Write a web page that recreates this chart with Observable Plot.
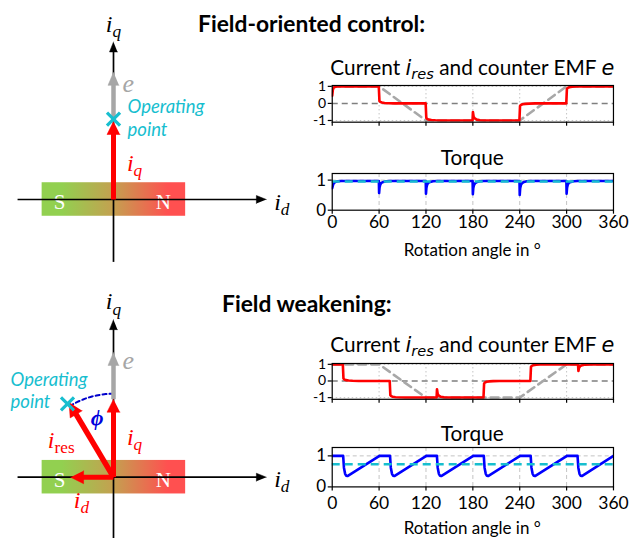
<!DOCTYPE html>
<html><head><meta charset="utf-8">
<script src="https://cdn.jsdelivr.net/npm/d3@7"></script>
<script src="https://cdn.jsdelivr.net/npm/@observablehq/plot@0.6"></script>
<style>
body{margin:0;background:#fff;}
#wrap{position:relative;width:638px;height:538px;overflow:hidden;font-family:Lato,"Open Sans",sans-serif;color:#000;}
.lbl{position:absolute;transform:translate(-50%,-50%);white-space:nowrap;line-height:1;}
.head{position:absolute;transform:translateY(-50%);font-weight:bold;font-size:22.8px;white-space:nowrap;line-height:1;}
.m{font-family:"DejaVu Sans",sans-serif;font-style:italic;}
.m sub{font-size:70%;vertical-align:-0.3em;line-height:0;}
</style></head><body><div id="wrap"></div><script>
// ---------------- data ----------------
const angleTicks = [0, 60, 120, 180, 240, 300, 360];
const currentTicks = [-1, 0, 1];
const torqueTicks = [0, 1];

// counter EMF e (trapezoid)
const emfAngle = [0, 60, 120, 240, 300, 360];
const emfValue = [1, 1, -1, -1, 1, 1];

// field-oriented control: current i_res
const focCurrentAngle = [0,0.8,1.8,3.5,6,10, 59.6,60.4,61.5,63.5,67,72,80, 119.6,120.4,121.5,123.5,127,132,140, 179.6,180.1,181,182.5,185,189,195, 239.6,240.4,241.5,243.5,247,252,260, 299.6,300.4,301.5,303.5,307,312,320, 360];
const focCurrentValue = [0.45,0.8,0.92,0.97,0.99,1, 1,0.15,0.09,0.05,0.025,0.01,0, 0,-0.85,-0.91,-0.95,-0.975,-0.99,-1, -1,-0.5,-0.78,-0.88,-0.95,-0.985,-1, -1,-0.15,-0.09,-0.05,-0.025,-0.01,0, 0,0.85,0.91,0.95,0.975,0.99,1, 1];

// field-oriented control: torque
const focTorqueAngle = [0,1,2,4,7,12, 59.7,60,60.6,61.5,63,65.5,69,74, 119.7,120,120.6,121.5,123,125.5,129,134, 179.7,180,180.6,181.5,183,185.5,189,194, 239.7,240,240.6,241.5,243,245.5,249,254, 299.7,300,300.6,301.5,303,305.5,309,314, 360];
const focTorqueValue = [0.73,0.84,0.9,0.94,0.96,0.97, 0.97,0.57,0.76,0.85,0.91,0.94,0.96,0.97, 0.97,0.55,0.75,0.85,0.91,0.94,0.96,0.97, 0.97,0.53,0.74,0.84,0.9,0.94,0.96,0.97, 0.97,0.51,0.73,0.84,0.9,0.94,0.96,0.97, 0.97,0.55,0.75,0.85,0.91,0.94,0.96,0.97, 0.97];
const focTorqueMean = [0.955];

// field weakening: current i_res
const fwCurrentAngle = [0,13.6,14.4,15.5,17.5,21,26,34, 73.6,74.4,75.5,77.5,81,86,94, 133.6,134.1,135,136.5,139,143,149, 193.6,194.4,195.5,197.5,201,206,214, 253.6,254.4,255.5,257.5,261,266,274, 314.6,315.1,316,317.5,320,324,330, 360];
const fwCurrentValue = [1,1,0.15,0.09,0.05,0.025,0.01,0, 0,-0.85,-0.91,-0.95,-0.975,-0.99,-1, -1,-0.5,-0.78,-0.88,-0.95,-0.985,-1, -1,-0.15,-0.09,-0.05,-0.025,-0.01,0, 0,0.85,0.91,0.95,0.975,0.99,1, 1,0.6,0.8,0.9,0.95,0.985,1, 1];

// field weakening: torque
const fwTorqueAngle = [0,14,15,16.5,18,19.5, 60.5,74,75,76.5,78,79.5, 120.5,134,135,136.5,138,139.5, 180.5,194,195,196.5,198,199.5, 240.5,254,255,256.5,258,259.5, 300.5,314,315,316.5,318,319.5, 360];
const fwTorqueValue = [1,1,0.62,0.42,0.36,0.35, 1,1,0.62,0.42,0.36,0.35, 1,1,0.62,0.42,0.36,0.35, 1,1,0.62,0.42,0.36,0.35, 1,1,0.62,0.42,0.36,0.35, 1,1,0.62,0.42,0.36,0.35, 1];
const fwTorqueMean = [0.73];

// phasor diagrams (normalised units, i_q = 1)
const focVectors = [
  {name: "e",  x1: 0, y1: 0, x2: 0, y2: 0.63, base: "iq"},
  {name: "iq", x1: 0, y1: 0, x2: 0, y2: 1}
];
const focOperatingPoint = [{x: 0, y: 1.03}];
const fwVectors = [
  {name: "e",    x1: 0, y1: 0, x2: 0, y2: 0.6, base: "iq"},
  {name: "iq",   x1: 0, y1: 0, x2: 0, y2: 1},
  {name: "ires", x1: 0, y1: 0, x2: -0.57, y2: 0.96},
  {name: "id",   x1: 0, y1: 0, x2: -0.55, y2: 0}
];
const fwOperatingPoint = [{x: -0.59, y: 0.94}];
const fwPhiDeg = [90, 122];

// ---------------- helpers ----------------
const wrap = document.getElementById("wrap");
const zip = (a, v) => a.map((x, i) => ({a: x, v: v[i]}));
function place(el, left, top) {
  el.style.position = "absolute"; el.style.left = left + "px"; el.style.top = top + "px";
  wrap.appendChild(el);
}
function addHtml(cls, html, left, top, extra) {
  const d = document.createElement("div");
  d.className = cls; d.innerHTML = html;
  d.style.left = left + "px"; d.style.top = top + "px";
  if (extra) Object.assign(d.style, extra);
  wrap.appendChild(d);
}
function richify(svg) {
  d3.select(svg).selectAll("text").each(function () {
    if (this.querySelector("tspan")) return;
    const t = this.textContent, i = t.indexOf("_");
    if (i < 0) return;
    let base = t.slice(0, i), sub = t.slice(i + 1), roman = false;
    if (sub.startsWith("!")) { roman = true; sub = sub.slice(1); }
    const s = d3.select(this); s.text(null);
    s.append("tspan").text(base);
    const ts = s.append("tspan").attr("dy", "0.3em").attr("font-size", "72%").text(sub);
    if (roman) ts.attr("font-style", "normal");
  });
}

// ---------------- time-series charts ----------------
const FRAME_W = 281.3;
function chart({left, frameTop, frameH, yDomain, yTicks, yGrid, showX, xPad, yFont, gridDash, marks}) {
  const mt = 6, ml = 31.7, mr = 20, mb = showX ? 32 : 8;
  const p = Plot.plot({
    width: ml + FRAME_W + mr, height: mt + frameH + mb,
    marginTop: mt, marginLeft: ml, marginRight: mr, marginBottom: mb,
    style: {fontFamily: "Lato, sans-serif", fontSize: "17px", background: "transparent", overflow: "visible", color: "#000"},
    x: {domain: [0, 360], axis: null},
    y: {domain: yDomain, axis: null},
    marks: [
      Plot.ruleX(angleTicks.slice(1, -1), {stroke: "#c4c4c4", strokeWidth: 1, strokeDasharray: gridDash}),
      Plot.ruleY(yGrid, {stroke: "#c4c4c4", strokeWidth: 1, strokeDasharray: gridDash}),
      ...marks,
      Plot.frame({stroke: "#000", strokeWidth: 1.2}),
      Plot.axisX({ticks: angleTicks, tickSize: 4, tickPadding: xPad, label: null, strokeWidth: 1.2, fontSize: 17.5,
        tickFormat: showX ? (d => String(d)) : (() => "")}),
      Plot.axisY({ticks: yTicks, tickSize: 4, tickPadding: 2, label: null, strokeWidth: 1.2, fontSize: yFont,
        tickFormat: d => String(d)})
    ]
  });
  place(p, left - ml, frameTop - mt);
}

const emf = zip(emfAngle, emfValue);
const emfLine = Plot.line(emf, {x: "a", y: "v", stroke: "#a8a8a8", strokeWidth: 2.6, strokeDasharray: "8,5", clip: true});
const zeroLine = Plot.ruleY([0], {stroke: "#7f7f7f", strokeWidth: 1.5, strokeDasharray: "6,4"});

// top current
chart({left: 331.7, frameTop: 85, frameH: 36.7, yDomain: [-1.1, 1.05], yTicks: currentTicks, yGrid: [-1, 1], showX: false, xPad: 2, yFont: 14, gridDash: "1.5,2.5",
  marks: [zeroLine, emfLine,
    Plot.line(zip(focCurrentAngle, focCurrentValue), {x: "a", y: "v", stroke: "#ff0000", strokeWidth: 2.6, clip: true})]});
// top torque
chart({left: 331.7, frameTop: 173.3, frameH: 36.7, yDomain: [0, 1.22], yTicks: torqueTicks, yGrid: [1], showX: true, xPad: 1.5, yFont: 17, gridDash: "4,3",
  marks: [
    Plot.line(zip(focTorqueAngle, focTorqueValue), {x: "a", y: "v", stroke: "#0000ff", strokeWidth: 2.6, clip: true}),
    Plot.ruleY(focTorqueMean, {stroke: "#17becf", strokeWidth: 2.6, strokeDasharray: "8,5"})]});
// bottom current
chart({left: 331.7, frameTop: 362.7, frameH: 35.8, yDomain: [-1.1, 1.05], yTicks: currentTicks, yGrid: [-1, 1], showX: false, xPad: 2, yFont: 14, gridDash: "1.5,2.5",
  marks: [zeroLine, emfLine,
    Plot.line(zip(fwCurrentAngle, fwCurrentValue), {x: "a", y: "v", stroke: "#ff0000", strokeWidth: 2.6, clip: true})]});
// bottom torque
chart({left: 331.7, frameTop: 447.3, frameH: 39.4, yDomain: [0, 1.27], yTicks: torqueTicks, yGrid: [1], showX: true, xPad: 6, yFont: 17, gridDash: "4,3",
  marks: [
    Plot.line(zip(fwTorqueAngle, fwTorqueValue), {x: "a", y: "v", stroke: "#0000ff", strokeWidth: 2.6, clip: true}),
    Plot.ruleY(fwTorqueMean, {stroke: "#17becf", strokeWidth: 2.6, strokeDasharray: "8,5"})]});

// ---------------- phasor diagrams ----------------
const U = 78;               // px per unit
const OX = 113;             // origin x in px
const magnet = {x1: -0.915, x2: 0.925, y1: -0.215, y2: 0.215};
const magnetPoles = [{t: "S", x: -0.69, y: -0.04}, {t: "N", x: 0.64, y: -0.04}];
const axisVectors = [
  {name: "ax", x1: -1.23, y1: 0, x2: 1.96, y2: 0},
  {name: "ax", x1: 0, y1: -0.8, x2: 0, y2: 2.02}
];
const vecStyle = {
  ax:   {color: "#000", w: 1.7, hl: 10, hw: 8},
  e:    {color: "#a6a6a6", w: 4.5, hl: 13, hw: 11},
  iq:   {color: "#ff0000", w: 5, hl: 13, hw: 13},
  ires: {color: "#ff0000", w: 5.5, hl: 14, hw: 14},
  id:   {color: "#ff0000", w: 5, hl: 13, hw: 13}
};
function arrowMarks(vecs, all) {
  const out = [];
  for (const v0 of vecs) {
    let v = v0;
    if (v0.base) { const b = all.find(d => d.name === v0.base); v = {...v0, x1: b.x2 + v0.x1, y1: b.y2 + v0.y1, x2: b.x2 + v0.x2, y2: b.y2 + v0.y2}; }
    const s = vecStyle[v.name];
    const dx = v.x2 - v.x1, dy = v.y2 - v.y1, L = Math.hypot(dx, dy);
    const ux = dx / L, uy = dy / L, px = -uy, py = ux;
    const hl = s.hl / U, hw = s.hw / U;
    const bx = v.x2 - ux * hl, by = v.y2 - uy * hl;
    out.push(Plot.link([v], {x1: "x1", y1: "y1", x2: d => d.x2 - ux * hl * 0.6, y2: d => d.y2 - uy * hl * 0.6, stroke: s.color, strokeWidth: s.w}));
    out.push(Plot.line([[v.x2, v.y2], [bx + px * hw / 2, by + py * hw / 2], [bx - px * hw / 2, by - py * hw / 2]],
      {fill: s.color, stroke: s.color, strokeWidth: 0.5}));
  }
  return out;
}
const mathFont = "Liberation Serif, DejaVu Serif, serif";
function label(t, x, y, o = {}) {
  return Plot.text([{t, x, y}], {x: "x", y: "y", text: "t", fontFamily: mathFont, fontStyle: "italic", fontSize: 24, fill: "#000", ...o});
}
function phasor({top, height, originY, vectors, op, extra}) {
  const p = Plot.plot({
    width: 300, height, margin: 0,
    style: {background: "transparent", overflow: "visible"},
    x: {domain: [-OX / U, (300 - OX) / U], axis: null},
    y: {domain: [-(height - originY) / U, originY / U], axis: null},
    marks: [
      Plot.rect([magnet], {x1: "x1", x2: "x2", y1: "y1", y2: "y2", fill: "url(#magnetGrad)"}),
      Plot.text(magnetPoles, {x: "x", y: "y", text: "t", fill: "white", fontSize: 21, fontFamily: mathFont}),
      ...arrowMarks(axisVectors, axisVectors),
      ...(extra.before || []),
      ...arrowMarks(vectors, vectors),
      label("i_q", 0, 2.25),
      label("i_d", 2.06, -0.03, {textAnchor: "start"}),
      label("e", 0.19, 1.49, {fill: "#a6a6a6", fontSize: 26}),
      label("i_q", 0.27, extra.iqY, {fill: "#ff0000"}),
      ...(extra.labels || []),
      Plot.text([extra.opText], {x: "x", y: "y", text: "t", textAnchor: "start", fill: "#17becf", fontStyle: "italic",
        fontSize: 18.5, fontFamily: "Lato, sans-serif", lineHeight: extra.opText.lh}),
      Plot.dot(op, {x: "x", y: "y", symbol: "times", r: 6, stroke: "#17becf", strokeWidth: 3.2})
    ]
  });
  const svg = p.tagName.toLowerCase() === "svg" ? p : p.querySelector("svg");
  const defs = d3.select(svg).insert("defs", ":first-child");
  const g = defs.append("linearGradient").attr("id", "magnetGrad").attr("x1", 0).attr("x2", 1).attr("y1", 0).attr("y2", 0);
  [[0, "#92d050"], [0.14, "#92d050"], [0.5, "#c4a050"], [0.88, "#ff5050"], [1, "#ff5050"]]
    .forEach(([o, c]) => g.append("stop").attr("offset", o).attr("stop-color", c));
  richify(svg);
  place(p, 0, top);
}

phasor({top: 0, height: 270, originY: 199, vectors: focVectors, op: focOperatingPoint,
  extra: {iqY: 0.46, opText: {t: "Operating\npoint", x: 0.18, y: 1.06, lh: 1.25}}});

const arcPts = d3.range(0, 1.0001, 1 / 30).map(t => {
  const a = (fwPhiDeg[0] + (fwPhiDeg[1] - fwPhiDeg[0]) * t) * Math.PI / 180;
  return [1.07 * Math.cos(a), 1.07 * Math.sin(a)];
});
phasor({top: 280, height: 258, originY: 196.7, vectors: fwVectors, op: fwOperatingPoint,
  extra: {
    iqY: 0.51,
    opText: {t: "Operating\npoint", x: -1.32, y: 1.124, lh: 1.19},
    before: [Plot.line(arcPts, {stroke: "#0000cc", strokeWidth: 2, strokeDasharray: "4,3"})],
    labels: [
      label("i_!res", -0.67, 0.47, {fill: "#ff0000"}),
      label("i_d", -0.41, -0.29, {fill: "#ff0000"}),
      label("\u03D5", -0.21, 0.76, {fill: "#0000dd", fontWeight: "bold", fontSize: 22})
    ]
  }});

// ---------------- texts ----------------
addHtml("head", "Field-oriented control:", 198, 23);
addHtml("head", "Field weakening:", 222, 303);
const curTitle = 'Current <span class="m">i<sub>res</sub></span> and counter EMF <span class="m">e</span>';
addHtml("lbl", curTitle, 472.3, 68, {fontSize: "20.8px"});
addHtml("lbl", "Torque", 472.3, 157, {fontSize: "20.8px"});
addHtml("lbl", "Rotation angle in °", 472.3, 248.5, {fontSize: "17px"});
addHtml("lbl", curTitle, 472.3, 345, {fontSize: "20.8px"});
addHtml("lbl", "Torque", 472.3, 433, {fontSize: "20.8px"});
addHtml("lbl", "Rotation angle in °", 472.3, 527, {fontSize: "17px"});
</script></body></html>
